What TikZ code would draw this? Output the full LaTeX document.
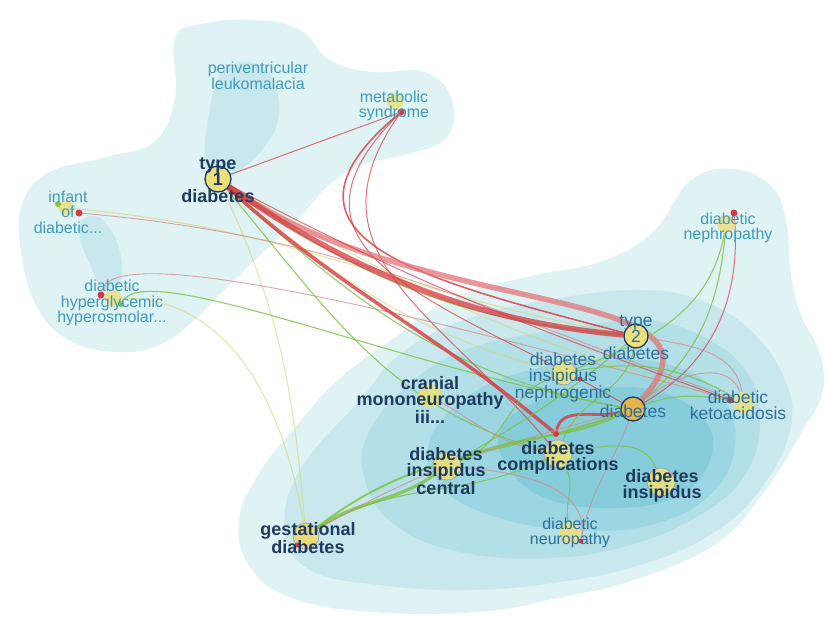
\documentclass[tikz,border=0pt]{standalone}
\usepackage{fontspec}
\setmainfont{Liberation Sans}
\usepackage{tikz}
\definecolor{cloudA}{HTML}{DFF2F4}
\definecolor{cloudB}{HTML}{C9E8ED}
\definecolor{cloudC}{HTML}{B3DFE7}
\definecolor{cloudD}{HTML}{9CD6E2}
\definecolor{cloudE}{HTML}{86CDDC}
\definecolor{navy}{HTML}{1E3A5F}
\definecolor{lightlbl}{HTML}{3F9BBE}
\definecolor{midlbl}{HTML}{2E6E99}
\definecolor{edgered}{HTML}{D8383F}
\definecolor{edgepink}{HTML}{D9858E}
\definecolor{edgegreen}{HTML}{7DC142}
\definecolor{edgeyellow}{HTML}{D6D36A}
\definecolor{bubble}{HTML}{EDE07A}
\definecolor{bubbleorange}{HTML}{E6B54C}
\pgfdeclarelayer{bg}
\pgfdeclarelayer{edgelayer}
\pgfsetlayers{bg,edgelayer,main}
\tikzstyle{bignode}=[circle, draw=navy, line width=1.3pt, fill=bubble, inner sep=0pt]
\tikzstyle{softnode}=[circle, draw=navy!45, line width=0.8pt, fill=bubble, fill opacity=.9, inner sep=0pt]
\tikzstyle{plainnode}=[circle, fill=bubble, fill opacity=.85, inner sep=0pt]
\tikzstyle{dotred}=[circle, fill=edgered, inner sep=0pt, minimum size=7pt]
\tikzstyle{dotgreen}=[circle, fill=edgegreen, inner sep=0pt, minimum size=6pt]
\tikzstyle{lblbold}=[font=\bfseries\fontsize{18}{16.5}\selectfont, text=navy, align=center, inner sep=0pt]
\tikzstyle{lblmid}=[font=\fontsize{17.5}{16.5}\selectfont, text=midlbl, align=center, inner sep=0pt]
\tikzstyle{lbllight}=[font=\fontsize{16}{15.5}\selectfont, text=lightlbl, align=center, inner sep=0pt]
\tikzstyle{redthick}=[draw=edgered, line width=5.5pt, draw opacity=.75]
\tikzstyle{redmid}=[draw=edgered, line width=2.8pt, draw opacity=.8]
\tikzstyle{redthin}=[draw=edgered, line width=1pt, draw opacity=.7]
\tikzstyle{pinkthin}=[draw=edgepink, line width=.9pt, draw opacity=.75]
\tikzstyle{greenthick}=[draw=edgegreen, line width=3.2pt, draw opacity=.8]
\tikzstyle{greenthin}=[draw=edgegreen, line width=1.1pt, draw opacity=.8]
\tikzstyle{yellowthin}=[draw=edgeyellow, line width=1pt, draw opacity=.6]

\begin{document}
\begin{tikzpicture}[x=1pt,y=1pt]
	\useasboundingbox (0,0) rectangle (828,-618);
	\begin{pgfonlayer}{bg}
		\fill[white] (0,0) rectangle (828,-618);
		\fill[cloudA] plot[smooth cycle, tension=.7] coordinates {(175,-39) (202,-24) (255,-20) (300,-30) (330,-60) (372,-72) (425,-72) (452,-100) (446,-138) (403,-155) (361,-165) (329,-185) (297,-220) (255,-260) (223,-291) (191,-323) (159,-345) (117,-352) (69,-340) (37,-307) (21,-252) (22,-205) (48,-173) (106,-157) (154,-142) (175,-98)};
		\fill[cloudB] plot[smooth cycle, tension=.7] coordinates {(222,-72) (255,-63) (275,-85) (278,-120) (262,-150) (238,-172) (215,-186) (205,-165) (208,-120)};
		\fill[cloudB] plot[smooth cycle, tension=.7] coordinates {(82,-220) (100,-218) (116,-240) (122,-270) (115,-290) (100,-285) (88,-260) (80,-238)};
		\fill[cloudA] plot[smooth cycle, tension=.7] coordinates {(393,-339) (451,-299) (531,-276) (600,-262) (653,-232) (690,-181) (732,-169) (770,-185) (786,-220) (791,-276) (801,-315) (820,-354) (822,-394) (801,-433) (764,-492) (717,-543) (637,-579) (557,-598) (478,-612) (372,-612) (292,-598) (250,-567) (239,-520) (260,-472) (297,-425) (340,-378)};
		\fill[cloudB] plot[smooth cycle, tension=.7] coordinates {(300,-470) (360,-400) (403,-352) (470,-318) (560,-298) (640,-290) (700,-300) (750,-330) (785,-380) (790,-430) (760,-490) (710,-535) (640,-565) (560,-582) (470,-590) (380,-585) (310,-570) (285,-530)};
		\fill[cloudC] plot[smooth cycle, tension=.7] coordinates {(370,-430) (420,-375) (480,-345) (560,-330) (640,-320) (700,-335) (745,-370) (760,-420) (745,-475) (700,-515) (630,-545) (550,-558) (460,-552) (395,-525) (365,-480)};
		\fill[cloudD] plot[smooth cycle, tension=.7] coordinates {(430,-440) (470,-395) (530,-370) (600,-360) (670,-365) (720,-395) (735,-445) (710,-495) (650,-525) (570,-530) (490,-515) (440,-485)};
		\fill[cloudE] plot[smooth cycle, tension=.7] coordinates {(500,-430) (540,-400) (600,-388) (660,-392) (705,-420) (710,-460) (680,-495) (620,-508) (550,-500) (510,-470)};
	\end{pgfonlayer}

	\begin{scope}
		\node (t1) at (218,-179) [bignode, minimum size=26pt] {};
		\node (t2) at (636,-336) [bignode, minimum size=24pt] {};
		\node (dm) at (633,-409) [bignode, fill=bubbleorange, minimum size=24pt] {};
		\node (ms) at (395,-101) [plainnode, minimum size=17pt] {};
		\node (inf) at (66,-208) [plainnode, minimum size=15pt] {};
		\node (hh) at (113,-298) [plainnode, minimum size=17pt] {};
		\node (dn) at (726,-224) [plainnode, minimum size=18pt] {};
		\node (din) at (564,-373) [softnode, minimum size=24pt] {};
		\node (cm) at (430,-396) [plainnode, minimum size=24pt] {};
		\node (dka) at (744,-403) [plainnode, minimum size=22pt] {};
		\node (dic) at (447,-466) [softnode, minimum size=28pt] {};
		\node (dc) at (558,-454) [softnode, minimum size=28pt] {};
		\node (di) at (661,-482) [softnode, minimum size=28pt] {};
		\node (dnp) at (570,-533) [plainnode, minimum size=22pt] {};
		\node (gd) at (306,-536) [softnode, fill=bubble!85!bubbleorange, minimum size=26pt] {};

		\node (msr) at (401,-112) [dotred] {};
		\node (infr) at (79,-213) [dotred] {};
		\node (infg) at (58,-204) [dotgreen] {};
		\node (hhr) at (101,-295) [dotred] {};
		\node (hhg) at (121,-304) [dotgreen] {};
		\node (dnr) at (734,-213) [dotred] {};
		\node (dkar) at (730,-400) [dotred] {};
		\node (dinr) at (580,-379) [dotred, minimum size=5pt] {};
		\node (dcr) at (556,-434) [dotred, minimum size=6pt] {};
		\node (dnpr) at (581,-541) [dotred, minimum size=5pt] {};
		\node (gdr) at (297,-545) [dotred, minimum size=5pt] {};

		\node (t1l) at (218,-180) [lblbold] {type\\1\\diabetes};
		\node (t2l) at (636,-337) [lblmid] {type\\2\\diabetes};
		\node (dml) at (633,-411) [lblmid] {diabetes};
		\node (pvl) at (258,-76) [lbllight] {periventricular\\leukomalacia};
		\node (msl) at (394,-106) [lbllight] {metabolic\\syndrome};
		\node (infl) at (68,-212) [lbllight] {infant\\of\\diabetic...};
		\node (hhl) at (112,-303) [lbllight] {diabetic\\hyperglycemic\\hyperosmolar...};
		\node (dnl) at (728,-228) [lbllight] {diabetic\\nephropathy};
		\node (dinl) at (563,-377) [lblmid] {diabetes\\insipidus\\nephrogenic};
		\node (cml) at (430,-400) [lblbold] {cranial\\mononeuropathy\\iii...};
		\node (dkal) at (738,-405) [lblmid] {diabetic\\ketoacidosis};
		\node (dicl) at (446,-471) [lblbold] {diabetes\\insipidus\\central};
		\node (dcl) at (558,-458) [lblbold] {diabetes\\complications};
		\node (dil) at (662,-486) [lblbold] {diabetes\\insipidus};
		\node (dnpl) at (570,-533) [lbllight, text=midlbl] {diabetic\\neuropathy};
		\node (gdl) at (308,-538) [lblbold] {gestational\\diabetes};
	\end{scope}

	\begin{pgfonlayer}{edgelayer}
		\path [yellowthin] (t1) edge[out=-65, in=95] (gd);
		\path [yellowthin] (hh) edge[out=0, in=100] (gd);
		\path [yellowthin] (t1) edge[out=-30, in=165] (dka);
		\path [yellowthin] (inf) edge[out=-5, in=170] (t2);
		\path [yellowthin] (t1) edge[out=-40, in=165] (din);
		\path [pinkthin] (infr) edge[out=-5, in=160] (dka);
		\path [pinkthin] (hhr) edge[out=80, in=165, out distance=60, in distance=250] (dka);
		\path [greenthin] (hhg) edge[out=60, in=170, out distance=50, in distance=220] (dm);
		\path [greenthin] (t1) edge[out=-50, in=165] (dc);
		\path [greenthin] (t1) edge[out=-42, in=170] (dm);
		\path [greenthin] (t1) edge[out=-35, in=175] (t2);
		\path [redthin] (msr) edge (t1);
		\path [redmid, line width=1.6pt] (msr) edge[out=220, in=165, looseness=1.6] (t2);
		\path [redthin] (msr) edge[out=225, in=150, looseness=1.4] (dm);
		\path [redthin] (msr) edge[out=235, in=130, looseness=1.2] (dc);
		\draw [redthick, draw=edgered!70!white] (t1) .. controls (420,-322) and (750,-282) .. (dm);
		\path [redthick] (t1) edge[out=-35, in=175, looseness=.9] (t2);
		\path [redmid, line width=3.5pt] (t1) edge[out=-42, in=140] (dcr);
		\path [redmid] (dcr) edge[out=80, in=195] (dm);
		\path [redthin] (t1) edge[out=-28, in=160] (dkar);
		\path [greenthick] (gd) edge[out=35, in=215] (dic);
		\path [greenthin, line width=2pt] (gd) edge[out=38, in=200] (dm);
		\path [greenthin] (gd) edge[out=32, in=205] (dc);
		\path [pinkthin] (gd) edge[out=30, in=195] (dm);
		\path [greenthin, line width=2pt] (dic) edge[out=25, in=205] (dm);
		\path [greenthin] (dic) edge[out=30, in=220] (t2);
		\path [greenthin] (dic) edge[out=20, in=200] (din);
		\path [greenthin] (dn) edge[out=-95, in=40] (dm);
		\path [redthin] (dnr) edge[out=-85, in=30] (dm);
		\path [greenthin] (dn) edge[out=-100, in=20] (din);
		\path [pinkthin] (t2) edge[out=-10, in=100] (dka);
		\path [greenthin] (dm) edge[out=20, in=170] (dka);
		\path [greenthin] (din) edge[out=10, in=150] (dka);
		\path [pinkthin] (dm) edge[out=40, in=110] (dka);
		\path [greenthin] (dc) edge[out=-60, in=100] (dnp);
		\path [pinkthin] (dic) edge[out=-5, in=80] (dnpr);
		\path [pinkthin] (dm) edge[out=-110, in=80] (dnpr);
		\path [greenthin] (dc) edge[out=10, in=110] (di);
		\path [pinkthin] (cm) edge[out=-30, in=170] (dc);
		\path [greenthin] (t2) edge[out=-100, in=70] (dc);
	\end{pgfonlayer}
\end{tikzpicture}
\end{document}
